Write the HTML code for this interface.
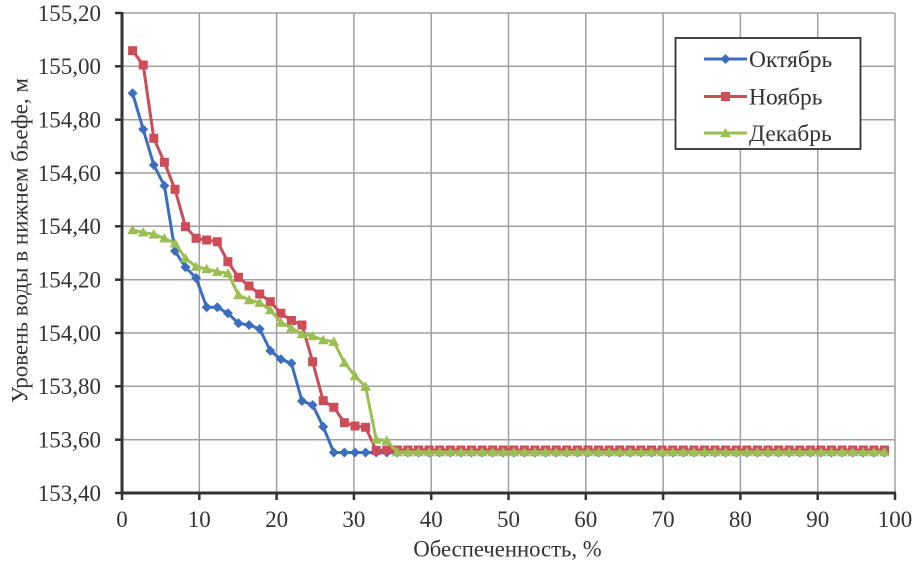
<!DOCTYPE html>
<html><head><meta charset="utf-8"><style>
html,body{margin:0;padding:0;background:#fff;}
svg{display:block;}
text{font-family:"Liberation Serif",serif;fill:#333;}
</style></head><body>
<svg width="918" height="569" viewBox="0 0 918 569" xmlns="http://www.w3.org/2000/svg">
<defs>
<marker id="md" markerUnits="userSpaceOnUse" markerWidth="12" markerHeight="12" viewBox="-6 -6 12 12" refX="0" refY="0" overflow="visible"><path d="M0,-5 L5,0 L0,5 L-5,0Z" fill="#3c6ec0"/></marker>
<marker id="ms" markerUnits="userSpaceOnUse" markerWidth="12" markerHeight="12" viewBox="-6 -6 12 12" refX="0" refY="0" overflow="visible"><rect x="-4.5" y="-4.5" width="9" height="9" fill="#cd4c58"/></marker>
<marker id="mt" markerUnits="userSpaceOnUse" markerWidth="12" markerHeight="12" viewBox="-6 -6 12 12" refX="0" refY="0" overflow="visible"><path d="M0,-5.2 L5.4,4.2 L-5.4,4.2Z" fill="#9cbf52"/></marker>
</defs>
<rect width="918" height="569" fill="#fff"/>
<!-- grid -->
<g stroke="#a0a0a0" stroke-width="1.5">
<line x1="122" y1="13" x2="895" y2="13"/>
<line x1="122" y1="66.3" x2="895" y2="66.3"/>
<line x1="122" y1="119.7" x2="895" y2="119.7"/>
<line x1="122" y1="173" x2="895" y2="173"/>
<line x1="122" y1="226.3" x2="895" y2="226.3"/>
<line x1="122" y1="279.7" x2="895" y2="279.7"/>
<line x1="122" y1="333" x2="895" y2="333"/>
<line x1="122" y1="386.3" x2="895" y2="386.3"/>
<line x1="122" y1="439.7" x2="895" y2="439.7"/>
<line x1="199.3" y1="13" x2="199.3" y2="493"/>
<line x1="276.6" y1="13" x2="276.6" y2="493"/>
<line x1="353.9" y1="13" x2="353.9" y2="493"/>
<line x1="431.2" y1="13" x2="431.2" y2="493"/>
<line x1="508.5" y1="13" x2="508.5" y2="493"/>
<line x1="585.8" y1="13" x2="585.8" y2="493"/>
<line x1="663.1" y1="13" x2="663.1" y2="493"/>
<line x1="740.4" y1="13" x2="740.4" y2="493"/>
<line x1="817.7" y1="13" x2="817.7" y2="493"/>
<line x1="895" y1="13" x2="895" y2="493"/>
</g>
<!-- axes -->
<g stroke="#333" stroke-width="3">
<line x1="122" y1="12" x2="122" y2="494.5"/>
<line x1="120.5" y1="493" x2="896" y2="493"/>
</g>
<g stroke="#333" stroke-width="2.5">
<line x1="115" y1="13" x2="122" y2="13"/>
<line x1="115" y1="66.3" x2="122" y2="66.3"/>
<line x1="115" y1="119.7" x2="122" y2="119.7"/>
<line x1="115" y1="173" x2="122" y2="173"/>
<line x1="115" y1="226.3" x2="122" y2="226.3"/>
<line x1="115" y1="279.7" x2="122" y2="279.7"/>
<line x1="115" y1="333" x2="122" y2="333"/>
<line x1="115" y1="386.3" x2="122" y2="386.3"/>
<line x1="115" y1="439.7" x2="122" y2="439.7"/>
<line x1="115" y1="493" x2="122" y2="493"/>
<line x1="122" y1="493" x2="122" y2="500"/>
<line x1="199.3" y1="493" x2="199.3" y2="500"/>
<line x1="276.6" y1="493" x2="276.6" y2="500"/>
<line x1="353.9" y1="493" x2="353.9" y2="500"/>
<line x1="431.2" y1="493" x2="431.2" y2="500"/>
<line x1="508.5" y1="493" x2="508.5" y2="500"/>
<line x1="585.8" y1="493" x2="585.8" y2="500"/>
<line x1="663.1" y1="493" x2="663.1" y2="500"/>
<line x1="740.4" y1="493" x2="740.4" y2="500"/>
<line x1="817.7" y1="493" x2="817.7" y2="500"/>
<line x1="895" y1="493" x2="895" y2="500"/>
</g>
<!-- y tick labels -->
<g font-size="23" text-anchor="end">
<text x="101" y="20.8">155,20</text>
<text x="101" y="74.1">155,00</text>
<text x="101" y="127.5">154,80</text>
<text x="101" y="180.8">154,60</text>
<text x="101" y="234.1">154,40</text>
<text x="101" y="287.5">154,20</text>
<text x="101" y="340.8">154,00</text>
<text x="101" y="394.1">153,80</text>
<text x="101" y="447.5">153,60</text>
<text x="101" y="500.8">153,40</text>
</g>
<!-- x tick labels -->
<g font-size="23" text-anchor="middle">
<text x="122" y="527">0</text>
<text x="199.3" y="527">10</text>
<text x="276.6" y="527">20</text>
<text x="353.9" y="527">30</text>
<text x="431.2" y="527">40</text>
<text x="508.5" y="527">50</text>
<text x="585.8" y="527">60</text>
<text x="663.1" y="527">70</text>
<text x="740.4" y="527">80</text>
<text x="817.7" y="527">90</text>
<text x="895" y="527">100</text>
</g>
<text x="507.5" y="556.5" font-size="22.7" text-anchor="middle">Обеспеченность, %</text>
<text transform="translate(27.5,240.5) rotate(-90)" font-size="23" text-anchor="middle">Уровень воды в нижнем бьефе, м</text>
<!-- series -->
<polyline fill="none" stroke="#3c6ec0" stroke-width="3" stroke-linejoin="round" marker-start="url(#md)" marker-mid="url(#md)" marker-end="url(#md)" points="132.6,93.3 143.2,129.3 153.8,165 164.4,185.7 175,251 185.5,267.3 196.1,278 206.7,307.3 217.3,307.3 227.9,313.3 238.5,323.3 249.1,325 259.7,329 270.3,350.7 280.9,359.3 291.4,363.3 302,401 312.6,405 323.2,426.7 333.8,452.5 344.4,452.5 355,452.5 365.6,452.5 376.2,452.5 386.8,452.5 397.3,452.5 407.9,452.5 418.5,452.5 429.1,452.5 439.7,452.5 450.3,452.5 460.9,452.5 471.5,452.5 482.1,452.5 492.7,452.5 503.2,452.5 513.8,452.5 524.4,452.5 535,452.5 545.6,452.5 556.2,452.5 566.8,452.5 577.4,452.5 588,452.5 598.6,452.5 609.1,452.5 619.7,452.5 630.3,452.5 640.9,452.5 651.5,452.5 662.1,452.5 672.7,452.5 683.3,452.5 693.9,452.5 704.5,452.5 715,452.5 725.6,452.5 736.2,452.5 746.8,452.5 757.4,452.5 768,452.5 778.6,452.5 789.2,452.5 799.8,452.5 810.4,452.5 820.9,452.5 831.5,452.5 842.1,452.5 852.7,452.5 863.3,452.5 873.9,452.5 884.5,452.5"/>
<polyline fill="none" stroke="#cd4c58" stroke-width="3" stroke-linejoin="round" marker-start="url(#ms)" marker-mid="url(#ms)" marker-end="url(#ms)" points="132.6,50.7 143.2,65 153.8,138.3 164.4,162.3 175,189.3 185.5,226.7 196.1,238.3 206.7,240 217.3,241.7 227.9,261.7 238.5,277.3 249.1,286 259.7,294 270.3,301.7 280.9,313.3 291.4,320.5 302,325 312.6,361.7 323.2,400.7 333.8,407.3 344.4,422.7 355,426 365.6,427.3 376.2,450.5 386.8,450 397.3,450 407.9,450 418.5,450 429.1,450 439.7,450 450.3,450 460.9,450 471.5,450 482.1,450 492.7,450 503.2,450 513.8,450 524.4,450 535,450 545.6,450 556.2,450 566.8,450 577.4,450 588,450 598.6,450 609.1,450 619.7,450 630.3,450 640.9,450 651.5,450 662.1,450 672.7,450 683.3,450 693.9,450 704.5,450 715,450 725.6,450 736.2,450 746.8,450 757.4,450 768,450 778.6,450 789.2,450 799.8,450 810.4,450 820.9,450 831.5,450 842.1,450 852.7,450 863.3,450 873.9,450 884.5,450"/>
<polyline fill="none" stroke="#9cbf52" stroke-width="3" stroke-linejoin="round" marker-start="url(#mt)" marker-mid="url(#mt)" marker-end="url(#mt)" points="132.6,230 143.2,232.3 153.8,234.3 164.4,238.3 175,243.3 185.5,258.3 196.1,266.7 206.7,269 217.3,271.7 227.9,273.3 238.5,295 249.1,300 259.7,302.7 270.3,310 280.9,322.5 291.4,328 302,334 312.6,336 323.2,340 333.8,341.7 344.4,362.7 355,376 365.6,386.7 376.2,439.3 386.8,440.7 397.3,452 407.9,452 418.5,452 429.1,452 439.7,452 450.3,452 460.9,452 471.5,452 482.1,452 492.7,452 503.2,452 513.8,452 524.4,452 535,452 545.6,452 556.2,452 566.8,452 577.4,452 588,452 598.6,452 609.1,452 619.7,452 630.3,452 640.9,452 651.5,452 662.1,452 672.7,452 683.3,452 693.9,452 704.5,452 715,452 725.6,452 736.2,452 746.8,452 757.4,452 768,452 778.6,452 789.2,452 799.8,452 810.4,452 820.9,452 831.5,452 842.1,452 852.7,452 863.3,452 873.9,452 884.5,452"/>
<!-- legend -->
<rect x="675.5" y="38" width="185" height="111" fill="#fff" stroke="#333" stroke-width="1.8"/>
<line x1="704" y1="59" x2="747" y2="59" stroke="#3c6ec0" stroke-width="3"/>
<path d="M725.5,54 L730.5,59 L725.5,64 L720.5,59Z" fill="#3c6ec0"/>
<line x1="704" y1="96.5" x2="747" y2="96.5" stroke="#cd4c58" stroke-width="3"/>
<rect x="721" y="92" width="9" height="9" fill="#cd4c58"/>
<line x1="704" y1="133" x2="747" y2="133" stroke="#9cbf52" stroke-width="3"/>
<path d="M725.5,128 L730.9,137.2 L720.1,137.2Z" fill="#9cbf52"/>
<g font-size="23.5">
<text x="749" y="67">Октябрь</text>
<text x="749" y="104.5">Ноябрь</text>
<text x="749" y="141">Декабрь</text>
</g>
</svg>
</body></html>
